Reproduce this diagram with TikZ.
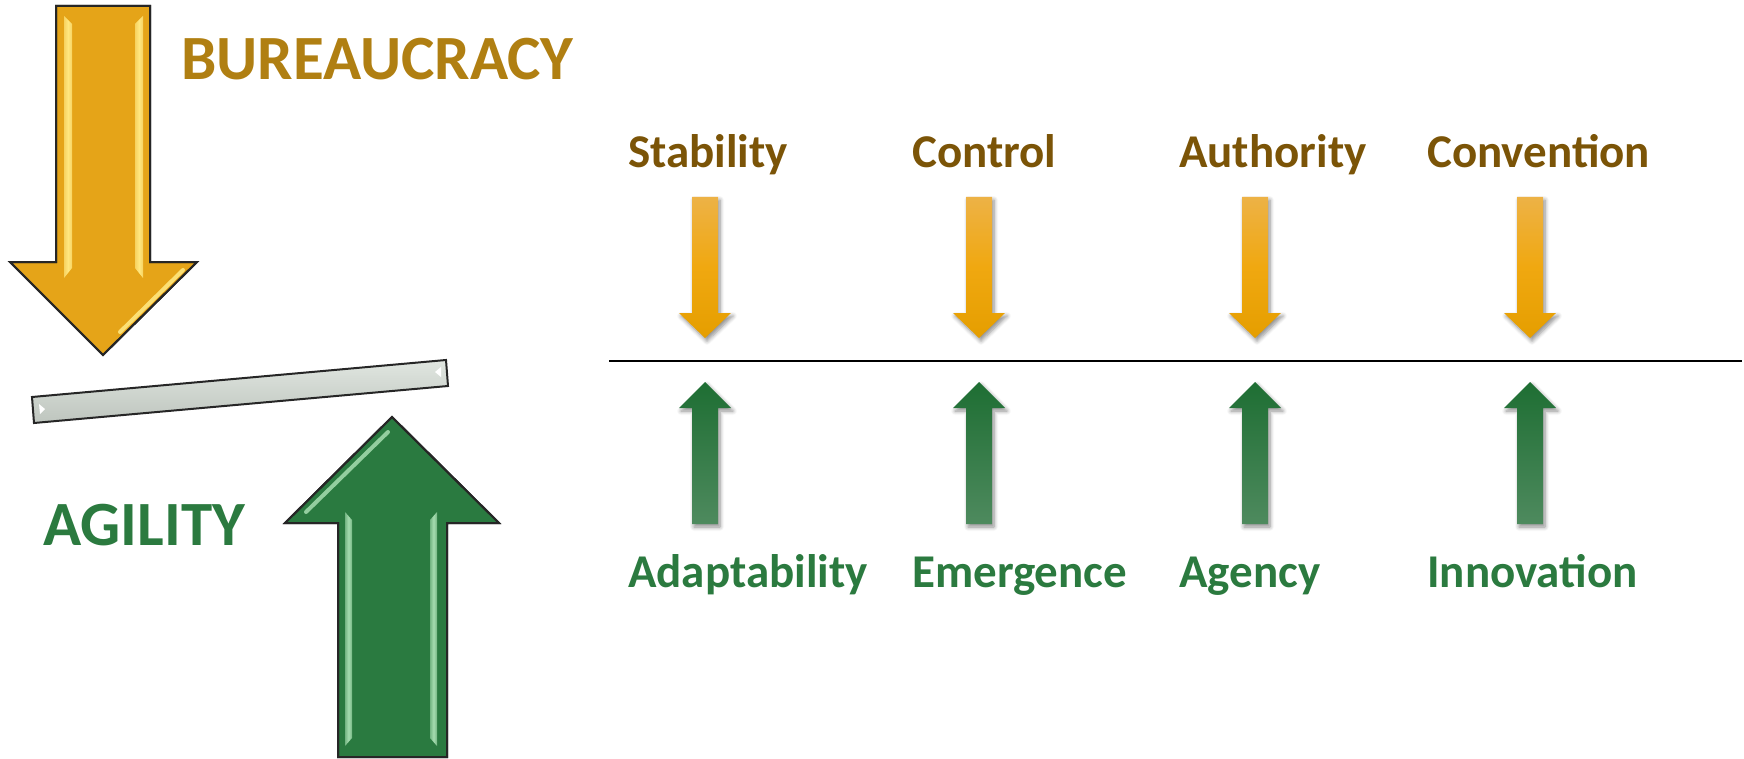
\documentclass[tikz,border=0pt]{standalone}
\usepackage{fontspec}
\setmainfont{Carlito}
\usetikzlibrary{shadows.blur}
\definecolor{ybig}{HTML}{E5A418}
\definecolor{yhi}{HTML}{FFE77F}
\definecolor{gbig}{HTML}{2A7A40}
\definecolor{ghi}{HTML}{A6DDB0}
\definecolor{bureau}{HTML}{B07F12}
\definecolor{toplab}{HTML}{7B5407}
\definecolor{glab}{HTML}{2B7A3F}
\definecolor{ytop}{HTML}{EDB246}
\definecolor{ymid}{HTML}{F0A810}
\definecolor{ybot}{HTML}{E59E00}
\definecolor{gtop}{HTML}{1E6E33}
\definecolor{gbot}{HTML}{4E8A5E}
\definecolor{barfill}{HTML}{D3DBD3}
\tikzset{
  bigtitle/.style={anchor=base west, inner sep=0pt, font=\fontsize{63}{70}\selectfont\bfseries},
  toplabel/.style={anchor=base west, inner sep=0pt, text=toplab, font=\fontsize{47}{54}\selectfont\bfseries},
  botlabel/.style={anchor=base west, inner sep=0pt, text=glab, font=\fontsize{47}{54}\selectfont\bfseries},
  smallshadow/.style={blur shadow={shadow xshift=2pt, shadow yshift=-3pt, shadow blur steps=6, shadow blur radius=4pt, shadow opacity=45}},
  ystrip/.style={left color=ybig!30!yhi, right color=ybig!30!yhi, middle color=yhi},
  gstrip/.style={left color=gbig!40!ghi, right color=gbig!40!ghi, middle color=ghi},
  downarrow/.pic={
    \path[smallshadow, top color=ytop, bottom color=ybot, middle color=ymid]
      (-13,197) -- (13,197) -- (13,313) -- (26,313) -- (0,338) -- (-26,313) -- (-13,313) -- cycle;
  },
  uparrow/.pic={
    \path[smallshadow, top color=gtop, bottom color=gbot]
      (-13,524) -- (-13,408) -- (-26,408) -- (0,382) -- (26,408) -- (13,408) -- (13,524) -- cycle;
  }
}
\begin{document}
\begin{tikzpicture}[x=1pt,y=-1pt]
\useasboundingbox (0,0) rectangle (1744,759);
% big yellow arrow
\draw[fill=ybig, draw=black!85, line width=2pt, line join=miter]
  (56,6) -- (150,6) -- (150,262) -- (197,262) -- (103,355) -- (10,262) -- (56,262) -- cycle;
\path[ystrip] (64,16) -- (72,24) -- (72,268) -- (64,278) -- cycle;
\path[ystrip] (135,24) -- (143,16) -- (143,278) -- (135,268) -- cycle;
\draw[yhi, line width=4pt, line cap=round, opacity=0.9] (183,270) -- (120,332);
\draw[black!85, line width=2pt, line join=miter]
  (56,6) -- (150,6) -- (150,262) -- (197,262) -- (103,355) -- (10,262) -- (56,262) -- cycle;
% bar
\draw[draw=black!85, line width=2pt, top color=barfill!70!white, bottom color=barfill!90!black]
  (32,397) -- (446,360) -- (448,386) -- (34,423) -- cycle;
\fill[white] (39,404) -- (45,409) -- (40,414) -- cycle;
\fill[white] (441,367) -- (435,372) -- (441,377) -- cycle;
% big green arrow
\draw[fill=gbig, draw=black!85, line width=2pt, line join=miter]
  (338,757) -- (338,523) -- (285,523) -- (392,417) -- (499,523) -- (447,523) -- (447,757) -- cycle;
\path[gstrip] (345,512) -- (352,520) -- (352,738) -- (345,746) -- cycle;
\path[gstrip] (430,520) -- (437,512) -- (437,746) -- (430,738) -- cycle;
\draw[ghi, line width=4pt, line cap=round, opacity=0.85] (388,432) -- (306,512);
\draw[black!85, line width=2pt, line join=miter]
  (338,757) -- (338,523) -- (285,523) -- (392,417) -- (499,523) -- (447,523) -- (447,757) -- cycle;
% titles
\node[bigtitle, text=bureau] (bur) at (181,80) {BUREAUCRACY};
\node[bigtitle, text=glab] (agi) at (43,545) {AGILITY};
% divider
\coordinate (lineL) at (609,361);
\coordinate (lineR) at (1742,361);
\draw[black, line width=2.5pt] (lineL) -- (lineR);
% small arrows
\foreach \cx in {705,979,1255,1530} {
  \pic at (\cx,0) {downarrow};
  \pic at (\cx,0) {uparrow};
}
% labels
\node[toplabel] (stab) at (628,168) {Stability};
\node[toplabel] (ctrl) at (912,168) {Control};
\node[toplabel] (auth) at (1179,168) {Authority};
\node[toplabel] (conv) at (1427,168) {Convention};
\node[botlabel] (adap) at (628,587) {Adaptability};
\node[botlabel] (emer) at (912,587) {Emergence};
\node[botlabel] (agen) at (1179,587) {Agency};
\node[botlabel] (inno) at (1427,587) {Innovation};
\end{tikzpicture}
\end{document}
